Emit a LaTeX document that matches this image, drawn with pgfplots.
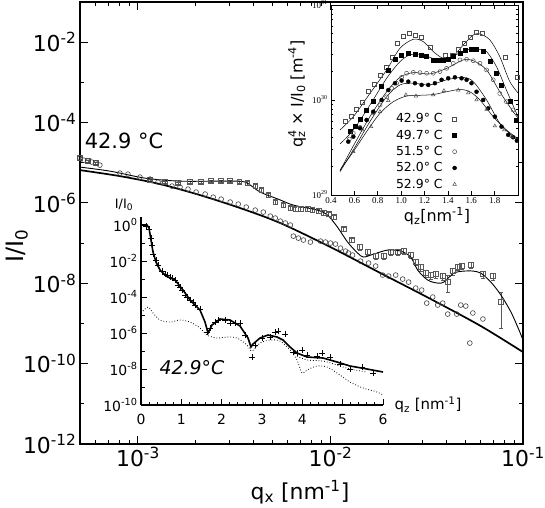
\documentclass[border=0pt]{standalone}
\usepackage{fontspec}
\setmainfont{DejaVu Sans}
\newfontfamily\tnr{Liberation Serif}
\usepackage{pgfplots}
\pgfplotsset{compat=1.18}

\newcommand\fs[1]{\fontsize{#1}{#1}\selectfont}

\begin{document}
\begin{tikzpicture}[x=1bp,y=1bp]
\path[use as bounding box] (0,0) rectangle (545,508);

% ---------------- main plot ----------------
\begin{axis}[
  at={(80bp,64bp)}, anchor=south west,
  scale only axis, width=443bp, height=442bp,
  xmode=log, ymode=log,
  xmin=5e-4, xmax=0.1, ymin=1e-12, ymax=1e-1,
  xtick={1e-3,1e-2,1e-1},
  xticklabels={10\textsuperscript{-3},10\textsuperscript{-2},10\textsuperscript{-1}},
  minor xtick={6e-4,7e-4,8e-4,9e-4,2e-3,3e-3,4e-3,5e-3,6e-3,7e-3,8e-3,9e-3,2e-2,3e-2,4e-2,5e-2,6e-2,7e-2,8e-2,9e-2},
  ytick={1e-12,1e-10,1e-8,1e-6,1e-4,1e-2},
  yticklabels={10\textsuperscript{-12},10\textsuperscript{-10},10\textsuperscript{-8},10\textsuperscript{-6},10\textsuperscript{-4},10\textsuperscript{-2}},
  minor ytick={1e-11,1e-9,1e-7,1e-5,1e-3,1e-1},
  tick align=inside,
  major tick length=8bp, minor tick length=4.5bp,
  axis line style={line width=1.3bp},
  tick style={line width=1bp, black},
  ticklabel style={font=\fs{22}},
]
% 42.9 C, squares with error bars
\addplot[only marks, mark=square, mark size=2.4bp, gray!70!black, mark options={line width=0.6bp},
  error bars/.cd, y dir=both, y explicit relative,
  error bar style={gray!70!black, line width=0.6bp},
  error mark options={rotate=90, mark size=2bp, gray!70!black}]
coordinates {
(5.0e-4,1.30e-5) +- (0,0.08) (5.49e-4,1.10e-5) +- (0,0.08) (6.04e-4,9.78e-6) +- (0,0.08)
(1.155e-3,3.69e-6) +- (0,0.08) (1.383e-3,3.29e-6) +- (0,0.08) (1.615e-3,3.11e-6) +- (0,0.08)
(1.866e-3,3.29e-6) +- (0,0.08) (2.128e-3,3.29e-6) +- (0,0.08) (2.399e-3,3.48e-6) +- (0,0.08)
(2.705e-3,3.48e-6) +- (0,0.08) (3.013e-3,3.48e-6) +- (0,0.08) (3.358e-3,3.29e-6) +- (0,0.08)
(3.696e-3,3.11e-6) +- (0,0.1) (4.066e-3,2.62e-6) +- (0,0.1) (4.374e-3,2.08e-6) +- (0,0.1)
(4.753e-3,1.56e-6) +- (0,0.12) (5.170e-3,1.05e-6) +- (0,0.12) (5.693e-3,8.81e-7) +- (0,0.12)
(6.191e-3,7.43e-7) +- (0,0.12) (6.574e-3,7.02e-7) +- (0,0.12) (6.981e-3,7.02e-7) +- (0,0.12)
(7.591e-3,7.02e-7) +- (0,0.12) (8.055e-3,6.62e-7) +- (0,0.12) (8.660e-3,6.25e-7) +- (0,0.12)
(9.196e-3,5.57e-7) +- (0,0.12) (9.770e-3,5.26e-7) +- (0,0.12) (1.037e-2,4.43e-7) +- (0,0.12)
(1.169e-2,2.23e-7) +- (0,0.12) (1.286e-2,1.19e-7) +- (0,0.12) (1.417e-2,7.95e-8) +- (0,0.15)
(1.558e-2,5.97e-8) +- (0,0.15) (1.716e-2,4.75e-8) +- (0,0.15) (1.888e-2,4.75e-8) +- (0,0.15)
(2.054e-2,5.97e-8) +- (0,0.15) (2.234e-2,5.97e-8) +- (0,0.15) (2.399e-2,6.32e-8) +- (0,0.15)
(2.610e-2,5.03e-8) +- (0,0.15) (2.772e-2,3.37e-8) +- (0,0.15) (2.942e-2,2.53e-8) +- (0,0.2)
(3.125e-2,1.79e-8) +- (0,0.2) (3.318e-2,1.60e-8) +- (0,0.2) (3.523e-2,1.69e-8) +- (0,0.2)
(3.828e-2,1.51e-8) +- (0,0.2) (4.064e-2,1.07e-8) +- (0,0.45) (4.315e-2,2.01e-8) +- (0,0.2)
(4.582e-2,2.53e-8) +- (0,0.15) (4.807e-2,2.68e-8) +- (0,0.15) (5.357e-2,2.84e-8) +- (0,0.15)
(6.191e-2,1.69e-8) +- (0,0.2) (6.981e-2,1.51e-8) +- (0,0.2) (7.682e-2,3.41e-9) +- (0,0.78)
};
% 42.9 C, circles
\addplot[only marks, mark=o, mark size=2.4bp, black!75, mark options={line width=0.6bp}]
coordinates {
(5.0e-4,1.30e-5) (5.23e-4,1.16e-5) (5.49e-4,1.10e-5) (5.75e-4,1.04e-5) (6.04e-4,9.78e-6) (6.34e-4,8.72e-6)
(8.06e-4,5.51e-6) (8.87e-4,5.20e-6) (1.024e-3,4.38e-6) (1.155e-3,3.91e-6) (1.271e-3,3.29e-6) (1.349e-3,3.11e-6)
(1.503e-3,2.62e-6) (1.655e-3,2.47e-6) (1.820e-3,2.20e-6) (2.005e-3,1.86e-6) (2.233e-3,1.66e-6) (2.459e-3,1.39e-6)
(2.705e-3,1.24e-6) (3.013e-3,1.05e-6) (3.318e-3,9.33e-7) (3.652e-3,7.87e-7) (4.066e-3,6.62e-7) (4.479e-3,5.90e-7)
(4.870e-3,4.69e-7) (5.170e-3,4.19e-7) (5.490e-3,3.52e-7) (5.830e-3,3.15e-7) (6.191e-3,2.81e-7) (6.416e-3,1.49e-7)
(6.813e-3,1.33e-7) (7.235e-3,1.19e-7) (7.867e-3,1.06e-7) (8.873e-3,1.12e-7) (9.423e-3,1.06e-7) (1.0e-2,1.0e-7)
(1.062e-2,9.45e-8) (1.127e-2,7.51e-8) (1.197e-2,6.32e-8) (1.241e-2,5.64e-8) (1.302e-2,5.03e-8) (1.433e-2,3.56e-8)
(1.577e-2,3.18e-8) (1.716e-2,2.68e-8) (1.866e-2,1.60e-8) (2.005e-2,1.51e-8) (2.182e-2,1.60e-8) (2.371e-2,1.27e-8)
(2.546e-2,1.07e-8) (2.772e-2,7.60e-9) (2.977e-2,6.78e-9) (3.162e-2,3.21e-9) (3.398e-2,4.54e-9) (3.606e-2,2.87e-9)
(3.828e-2,3.21e-9) (4.064e-2,1.71e-9) (4.528e-2,1.71e-9) (4.750e-2,2.87e-9) (5.044e-2,2.71e-9) (5.293e-2,3.25e-10)
(5.490e-2,1.82e-9) (6.191e-2,1.29e-9)
};
% fits
\addplot[black, line width=0.9bp, smooth] coordinates {
(5.0e-4,7.78e-6) (7.15e-4,6.18e-6) (1.088e-3,4.14e-6) (1.655e-3,3.48e-6) (2.943e-3,3.48e-6) (3.606e-3,3.29e-6)
(4.315e-3,1.86e-6) (5.356e-3,1.24e-6) (6.416e-3,8.81e-7) (8.553e-3,6.62e-7) (9.650e-3,4.97e-7) (1.087e-2,2.50e-7)
(1.227e-2,1.06e-7) (1.384e-2,5.64e-8) (1.486e-2,4.49e-8) (1.675e-2,5.32e-8) (1.981e-2,6.70e-8) (2.316e-2,6.32e-8)
(2.610e-2,4.49e-8) (2.837e-2,2.13e-8) (3.199e-2,1.20e-8) (3.606e-2,1.01e-8) (3.881e-2,1.07e-8) (4.375e-2,1.79e-8)
(4.932e-2,2.01e-8) (5.490e-2,2.01e-8) (6.040e-2,1.79e-8) (6.810e-2,1.07e-8) (7.682e-2,5.08e-9) (8.659e-2,1.92e-9)
(9.533e-2,6.85e-10) (0.1,3.86e-10)
};
\addplot[black, line width=1.7bp, smooth] coordinates {
(5.0e-4,6.54e-6) (8.06e-4,4.64e-6) (1.302e-3,2.94e-6) (2.104e-3,1.56e-6) (3.398e-3,7.43e-7) (5.49e-3,3.15e-7)
(1.0e-2,7.95e-8) (1.820e-2,1.79e-8) (3.318e-2,4.05e-9) (6.04e-2,8.61e-10) (0.1,1.94e-10)
};
\end{axis}

% ---------------- inset: q_z^4 I/I0 ----------------
\begin{axis}[
  at={(331bp,313bp)}, anchor=south west,
  scale only axis, width=187bp, height=190bp,
  axis background/.style={fill=white},
  ymode=log,
  xmin=0.4, xmax=2.0, ymin=1e29, ymax=1e31,
  xtick={0.4,0.6,0.8,1.0,1.2,1.4,1.6,1.8},
  xticklabels={0.4,0.6,0.8,1.0,1.2,1.4,1.6,1.8},
  ytick={1e29,1e30,1e31},
  yticklabels={10\textsuperscript{29},10\textsuperscript{30},10\textsuperscript{31}},
  minor ytick={2e29,3e29,4e29,5e29,6e29,7e29,8e29,9e29,2e30,3e30,4e30,5e30,6e30,7e30,8e30,9e30},
  tick align=inside,
  major tick length=4bp, minor tick length=2bp,
  axis line style={line width=0.8bp},
  tick style={line width=0.6bp, black},
  ticklabel style={font=\tnr\fs{9}},
  xticklabel style={yshift=1bp},
  legend style={draw=none, fill=none, at={(0.32,0.45)}, anchor=north west,
    font=\fs{12.5}, row sep=1.6bp, legend cell align=right,
    /tikz/every odd column/.append style={column sep=8bp}},
  legend plot pos=right,
]
\addplot[only marks, mark=square, mark size=2bp, black!70, mark options={line width=0.5bp}] coordinates {
(0.52,6.03e29) (0.57,6.76e29) (0.62,7.94e29) (0.67,9.55e29) (0.72,1.23e30) (0.77,1.48e30) (0.82,1.82e30)
(0.87,2.19e30) (0.92,2.82e30) (0.97,3.98e30) (1.02,4.68e30) (1.07,5.01e30) (1.12,4.79e30) (1.17,4.57e30)
(1.25,3.55e30) (1.38,2.95e30) (1.44,2.95e30) (1.49,3.39e30) (1.54,3.98e30) (1.59,4.57e30) (1.64,5.13e30)
(1.69,5.01e30) (1.89,2.82e30) (1.99,1.74e30)
};
\addlegendentry{42.9° C}
\addplot[only marks, mark=square*, mark size=2bp, black] coordinates {
(0.562,4.65e29) (0.605,5.32e29) (0.654,6.25e29) (0.705,7.73e29) (0.762,9.59e29) (0.833,1.38e30) (0.890,2.07e30)
(0.947,2.68e30) (1.004,2.98e30) (1.061,3.10e30) (1.118,3.05e30) (1.175,2.98e30) (1.218,2.86e30) (1.275,2.64e30)
(1.317,2.59e30) (1.360,2.59e30) (1.403,2.70e30) (1.446,2.86e30) (1.503,3.10e30) (1.545,3.30e30) (1.602,3.41e30)
(1.645,3.44e30) (1.702,3.23e30) (1.759,2.53e30) (1.816,1.91e30) (1.859,1.44e30) (1.930,9.59e29) (1.987,6.15e29)
};
\addlegendentry{49.7° C}
\addplot[only marks, mark=o, mark size=2bp, black!70, mark options={line width=0.5bp}] coordinates {
(0.557,3.88e29) (0.591,4.46e29) (0.648,5.15e29) (0.705,6.15e29) (0.762,7.36e29) (0.819,8.85e29) (0.876,1.08e30)
(0.919,1.33e30) (0.961,1.50e30) (1.004,1.73e30) (1.047,1.91e30) (1.104,1.95e30) (1.161,1.94e30) (1.218,1.91e30)
(1.275,1.91e30) (1.332,1.99e30) (1.389,2.15e30) (1.446,2.43e30) (1.503,2.64e30) (1.560,2.68e30) (1.617,2.59e30)
(1.674,2.43e30) (1.731,2.07e30) (1.788,1.63e30) (1.844,1.17e30) (1.901,9.59e29) (1.958,7.85e29)
};
\addlegendentry{51.5° C}
\addplot[only marks, mark=*, mark size=2bp, black] coordinates {
(0.548,3.64e29) (0.591,4.11e29) (0.648,5.04e29) (0.705,6.15e29) (0.762,7.53e29) (0.833,1.00e30) (0.890,1.27e30)
(0.947,1.50e30) (1.004,1.60e30) (1.061,1.56e30) (1.118,1.50e30) (1.175,1.44e30) (1.232,1.44e30) (1.289,1.50e30)
(1.346,1.63e30) (1.403,1.69e30) (1.460,1.73e30) (1.517,1.69e30) (1.560,1.63e30) (1.602,1.50e30) (1.645,1.22e30)
(1.702,1.00e30) (1.745,8.17e29) (1.802,6.67e29) (1.859,5.24e29) (1.916,4.29e29) (1.958,4.05e29) (1.99,3.73e29)
};
\addlegendentry{52.0° C}
\addplot[only marks, mark=triangle, mark size=2bp, black!70, mark options={line width=0.5bp}] coordinates {
(0.591,2.86e29) (0.671,4.83e29) (0.742,5.24e29) (0.819,7.53e29) (0.890,9.84e29) (1.041,1.13e30) (1.127,1.10e30)
(1.275,1.13e30) (1.366,1.25e30) (1.488,1.27e30) (1.574,1.19e30) (1.645,1.00e30) (1.731,7.98e29) (1.802,5.32e29)
(1.882,4.83e29) (1.947,4.11e29)
};
\addlegendentry{52.9° C}
% fits
\addplot[forget plot, black, line width=0.5bp, smooth] coordinates {
(0.477,4.83e29) (0.591,6.67e29) (0.733,1.17e30) (0.876,2.07e30) (0.990,3.50e30) (1.104,4.35e30) (1.189,4.11e30)
(1.275,3.23e30) (1.360,2.75e30) (1.446,2.90e30) (1.531,3.79e30) (1.617,4.83e30) (1.674,4.95e30) (1.759,4.29e30)
(1.844,2.86e30) (1.930,1.56e30) (2.015,1.13e30)
};
\addplot[forget plot, black, line width=0.5bp, smooth] coordinates {
(0.477,3.44e29) (0.591,4.83e29) (0.733,8.85e29) (0.876,1.69e30) (0.990,2.53e30) (1.075,2.98e30) (1.161,3.03e30)
(1.246,2.81e30) (1.332,2.59e30) (1.417,2.74e30) (1.503,3.15e30) (1.588,3.41e30) (1.674,3.41e30) (1.731,3.23e30)
(1.816,2.24e30) (1.901,1.27e30) (1.987,7.24e29) (2.015,6.15e29)
};
\addplot[forget plot, black, line width=0.5bp, smooth] coordinates {
(0.477,1.80e29) (0.591,3.28e29) (0.733,6.67e29) (0.876,1.22e30) (0.990,1.73e30) (1.104,1.94e30) (1.246,1.88e30)
(1.389,2.15e30) (1.531,2.64e30) (1.617,2.59e30) (1.731,2.07e30) (1.844,1.22e30) (1.958,7.53e29) (2.015,6.15e29)
};
\addplot[forget plot, black, line width=0.5bp, smooth] coordinates {
(0.477,1.76e29) (0.591,2.98e29) (0.733,5.92e29) (0.876,1.08e30) (0.990,1.44e30) (1.104,1.50e30) (1.246,1.44e30)
(1.389,1.63e30) (1.531,1.73e30) (1.617,1.56e30) (1.731,1.00e30) (1.844,5.68e29) (1.958,4.11e29) (2.015,3.79e29)
};
\addplot[forget plot, black, line width=0.5bp, smooth] coordinates {
(0.477,1.83e29) (0.591,2.86e29) (0.705,4.65e29) (0.819,7.24e29) (0.933,9.59e29) (1.047,1.10e30) (1.161,1.12e30)
(1.275,1.14e30) (1.389,1.22e30) (1.503,1.29e30) (1.588,1.22e30) (1.674,1.00e30) (1.788,6.67e29) (1.901,4.83e29)
(2.015,3.79e29)
};
\end{axis}

% ---------------- inset: reflectivity ----------------
\begin{axis}[
  at={(141bp,103bp)}, anchor=south west,
  scale only axis, width=242bp, height=188bp,
  ymode=log,
  xmin=0, xmax=6, ymin=1e-10, ymax=2.8,
  axis x line*=bottom, axis y line*=left,
  xtick={0,1,2,3,4,5,6}, xticklabels={0,1,2,3,4,5,6}, minor x tick num=4,
  ytick={1e-10,1e-8,1e-6,1e-4,1e-2,1},
  yticklabels={10\textsuperscript{-10},10\textsuperscript{-8},10\textsuperscript{-6},10\textsuperscript{-4},10\textsuperscript{-2},10\textsuperscript{0}},
  minor ytick={1e-9,1e-7,1e-5,1e-3,1e-1},
  tick align=inside,
  major tick length=6bp, minor tick length=3.5bp,
  axis line style={line width=1.2bp},
  tick style={line width=0.9bp, black},
  ticklabel style={font=\fs{14}},
  xticklabel style={yshift=-6bp},
  clip=false,
]
\addplot[only marks, mark=+, mark size=3bp, black, mark options={line width=0.7bp}] coordinates {
(0.124,0.880) (0.198,0.599) (0.248,0.190) (0.273,7.74e-2) (0.298,2.45e-2) (0.372,1.14e-2) (0.422,5.99e-3)
(0.521,2.78e-3) (0.595,1.90e-3) (0.65,1.6e-3) (0.719,1.29e-3) (0.77,1.1e-3) (0.843,8.80e-4) (0.917,4.64e-4)
(0.97,3.5e-4) (1.017,2.45e-4) (1.091,1.29e-4) (1.15,9.5e-5) (1.215,6.81e-5) (1.289,5.27e-5) (1.35,3.5e-5)
(1.463,2.15e-5) (1.636,1.14e-6) (1.711,1.90e-6) (1.835,4.08e-6) (1.909,5.27e-6) (2.083,5.27e-6) (2.207,3.59e-6)
(2.331,3.59e-6) (2.455,3.59e-6) (2.579,7.74e-7) (2.752,4.64e-8) (2.827,2.15e-7) (3.000,5.27e-7) (3.199,6.0e-7)
(3.323,1.14e-6) (3.397,1.29e-6) (3.571,8.80e-7) (3.769,8.80e-8) (3.868,7.74e-8) (3.992,1.14e-7) (4.116,6.0e-8)
(4.364,5.27e-8) (4.488,7.74e-8) (4.686,4.64e-8) (4.934,1.90e-8) (5.182,1.0e-8) (5.480,1.29e-8) (5.753,6.0e-9)
};
\addplot[black, line width=1.6bp] coordinates {
(0,1.0) (0.149,1.0) (0.198,0.681) (0.248,0.147) (0.298,3.16e-2) (0.372,8.80e-3) (0.471,3.16e-3) (0.620,1.47e-3)
(0.843,8.80e-4) (1.041,2.45e-4) (1.215,6.81e-5) (1.463,1.90e-5) (1.587,4.08e-6) (1.661,1.0e-6) (1.760,2.78e-6)
(1.959,6.0e-6) (2.207,5.27e-6) (2.455,2.45e-6) (2.653,5.27e-7) (2.727,1.67e-7) (2.777,2.45e-7) (2.951,5.27e-7)
(3.149,7.74e-7) (3.372,6.0e-7) (3.521,4.08e-7) (3.695,1.67e-7) (3.868,7.74e-8) (4.116,4.64e-8) (4.513,4.08e-8)
(4.860,2.45e-8) (5.182,1.47e-8) (5.604,1.0e-8) (6.0,6.81e-9)
};
\addplot[black, dotted, line width=0.8bp, smooth] coordinates {
(0,1.29e-5) (0.174,2.78e-5) (0.298,1.29e-5) (0.471,5.27e-6) (0.719,4.08e-6) (0.967,5.27e-6) (1.215,4.08e-6)
(1.463,1.90e-6) (1.636,7.74e-7) (1.884,5.27e-7) (2.132,6.0e-7) (2.380,5.27e-7) (2.628,2.15e-7) (2.752,1.0e-7)
(2.951,2.78e-7) (3.199,4.08e-7) (3.447,3.59e-7) (3.695,1.14e-7) (3.868,3.16e-8) (3.992,6.0e-9) (4.116,8.80e-9)
(4.364,1.47e-8) (4.612,1.29e-8) (4.860,6.0e-9) (5.182,1.90e-9) (5.505,8.80e-10) (5.852,5.27e-10) (6.0,3.59e-10)
};
\addplot[black, dotted, line width=0.8bp, smooth] coordinates {
(3.868,5.27e-8) (4.116,3.16e-8) (4.513,2.78e-8) (4.860,1.67e-8) (5.182,1.0e-8) (5.604,6.81e-9)
};
\end{axis}

% ---------------- labels ----------------
\node[font=\fs{22}] at (300,16) {q\textsubscript{x} [nm\textsuperscript{-1}]};
\node[font=\fs{24}, rotate=90] at (17,262) {I/I\textsubscript{0}};
\node[font=\fs{21}] at (124,367) {42.9 °C};
\node[font=\fs{16}, rotate=90] at (297,414) {q\rlap{\textsuperscript{4}}\textsubscript{z} × I/I\textsubscript{0} [m\textsuperscript{-4}]};
\node[font=\fs{16}] at (437,292) {q\textsubscript{z}[nm\textsuperscript{-1}]};
\node[font=\fs{13}] at (124,303) {I/I\textsubscript{0}};
\node[font=\fs{15}] at (428,103) {q\textsubscript{z} [nm\textsuperscript{-1}]};
\node[font=\itshape\fs{19}] at (192,140) {42.9°C};
\end{tikzpicture}
\end{document}
